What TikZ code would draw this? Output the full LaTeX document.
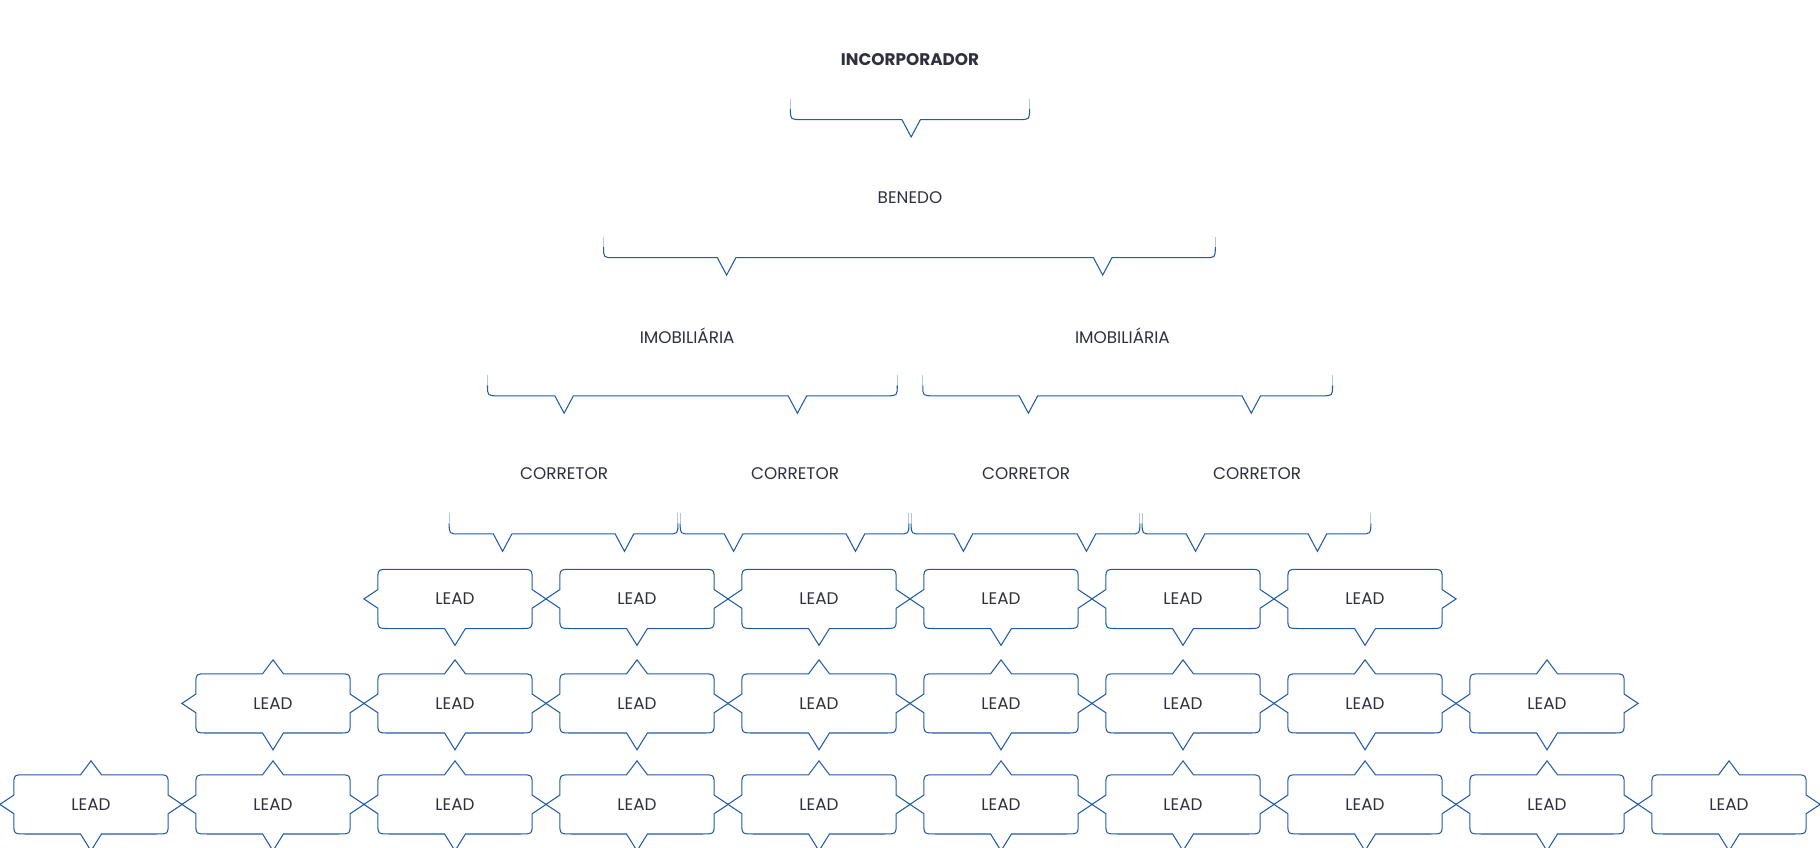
\documentclass[tikz,border=0pt]{standalone}
\usepackage{fontspec}
\setmainfont{Poppins}
\begin{document}
\begin{tikzpicture}[x=1pt,y=-1pt]
\definecolor{bl}{HTML}{1F5BAA}
\definecolor{tx}{HTML}{2E303E}
\tikzset{ln/.style={draw=bl, line width=0.9pt, line join=miter},
  lbl/.style={font=\fontsize{14.5}{16}\selectfont, text=tx}}
\useasboundingbox (0,0) rectangle (1568,730);
% bracket: #1 x1, #2 x2, #3 bottom y, #4 notch list
\newcommand\brk[4]{%
  \draw[ln,draw=bl!35] (#1,#3-18) -- (#1,#3-9);
  \draw[ln,draw=bl!35] (#2,#3-18) -- (#2,#3-9);
  \draw[ln] (#1,#3-9) .. controls (#1,#3) .. (#1+9,#3)
    \foreach \n in {#4} { -- (\n-8,#3) -- (\n,#3+15) -- (\n+8,#3) }
    -- (#2-9,#3) .. controls (#2,#3) .. (#2,#3-9);}
% lead: name, x, y, top notch (1/0)
\newcommand\lead[4]{%
  \node[lbl] (#1) at (#2,#3) {LEAD};
  \begin{scope}[shift={(#2,#3)}]
  \draw[ln] (-56.5,-25.5) -- (-9,-25.5) \ifnum#4=1 -- (0,-37.5)\fi -- (9,-25.5)
   -- (56.5,-25.5) .. controls (66.5,-25.5) .. (66.5,-15.5) -- (66.5,-8) -- (78.5,0) -- (66.5,8)
   -- (66.5,15.5) .. controls (66.5,25.5) .. (56.5,25.5) -- (9,25.5) -- (0,40) -- (-9,25.5)
   -- (-56.5,25.5) .. controls (-66.5,25.5) .. (-66.5,15.5) -- (-66.5,8) -- (-78.5,0) -- (-66.5,-8)
   -- (-66.5,-15.5) .. controls (-66.5,-25.5) .. cycle;
  \end{scope}}
\node[lbl,font=\fontsize{14.5}{16}\selectfont\bfseries] (inc) at (784,51) {INCORPORADOR};
\brk{681}{887}{103}{785}
\node[lbl] (ben) at (784,170) {BENEDO};
\brk{520}{1047}{222}{626,950}
\node[lbl] (im1) at (592,289) {IMOBILIÁRIA};
\node[lbl] (im2) at (967,289) {IMOBILIÁRIA};
\brk{420}{773}{341}{486,687}
\brk{795}{1148}{341}{886,1078}
\node[lbl] (c1) at (486,408) {CORRETOR};
\node[lbl] (c2) at (685,408) {CORRETOR};
\node[lbl] (c3) at (884,408) {CORRETOR};
\node[lbl] (c4) at (1083,408) {CORRETOR};
\brk{387}{584}{460}{433,538}
\brk{586}{783}{460}{632,737}
\brk{785}{982}{460}{830,936}
\brk{984}{1181}{460}{1030,1135}
\foreach \i in {0,...,5} {\pgfmathsetmacro\xx{392+156.8*\i}\lead{a\i}{\xx}{516}{0}}
\foreach \i in {0,...,7} {\pgfmathsetmacro\xx{235.2+156.8*\i}\lead{b\i}{\xx}{606}{1}}
\foreach \i in {0,...,9} {\pgfmathsetmacro\xx{78.4+156.8*\i}\lead{c\i}{\xx}{693}{1}}
\end{tikzpicture}
\end{document}
